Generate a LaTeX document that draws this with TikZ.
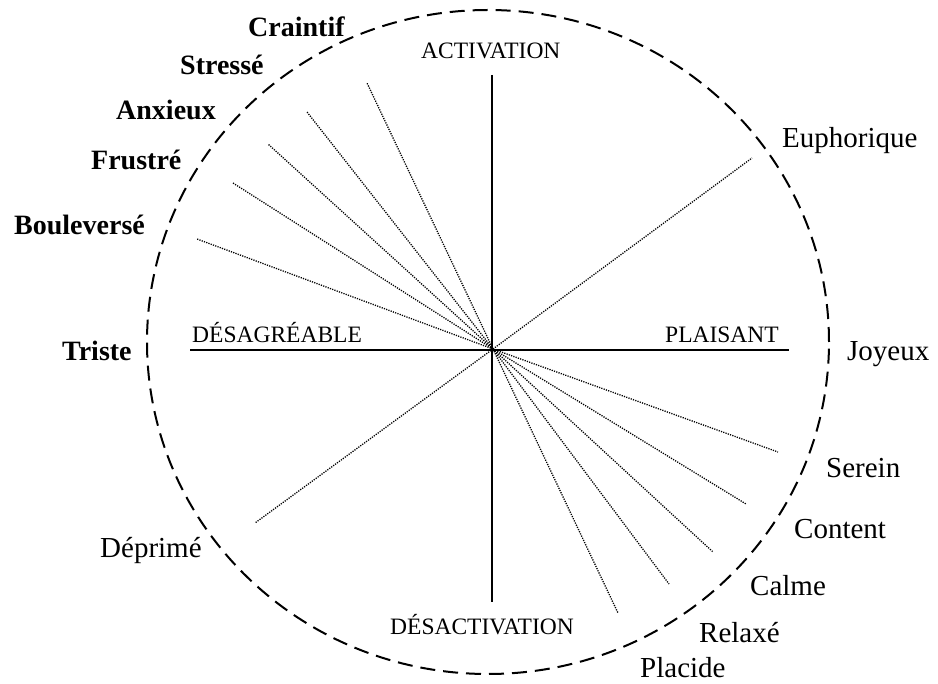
\documentclass[tikz,border=0pt]{standalone}
\usepackage{fontspec}
\setmainfont{Liberation Serif}
\begin{document}
\begin{tikzpicture}[x=1pt,y=-1pt,
  axis/.style={line width=1.5pt},
  ray/.style={line width=1.3pt,dash pattern=on 1.2pt off 1.2pt},
  rim/.style={line width=2pt,dash pattern=on 15pt off 8pt},
  emo/.style={anchor=base west,inner sep=0pt,font=\fontsize{29}{34}\selectfont},
  emob/.style={emo,font=\fontsize{28}{34}\selectfont\bfseries},
  pole/.style={anchor=base west,inner sep=0pt,font=\fontsize{23.5}{28}\selectfont}]
\useasboundingbox (0,0) rectangle (938,684);

% outer dashed ellipse
\draw[rim] (488,342) ellipse [x radius=341pt, y radius=332pt];

% axes
\coordinate (O) at (493,349);
\coordinate (xl) at (190,350);
\coordinate (xr) at (789,350);
\coordinate (yt) at (492,75);
\coordinate (yb) at (492,602);
\draw[axis] (xl) -- (xr);
\draw[axis] (yt) -- (yb);

% ray end points
\coordinate (rCraintif) at (367,83);
\coordinate (rStresse) at (307,112);
\coordinate (rAnxieux) at (268,144);
\coordinate (rFrustre) at (233,183);
\coordinate (rBoulev) at (197,239);
\coordinate (rEuph) at (752,158);
\coordinate (rDeprime) at (255,523);
\coordinate (rSerein) at (778,452);
\coordinate (rContent) at (746,504);
\coordinate (rCalme) at (713,552);
\coordinate (rRelaxe) at (669,584);
\coordinate (rPlacide) at (618,613);

\foreach \e in {rCraintif,rStresse,rAnxieux,rFrustre,rBoulev,rEuph,rDeprime,rSerein,rContent,rCalme,rRelaxe,rPlacide}
  \draw[ray] (O) -- (\e);

% pole labels
\node[pole] (act) at (421,59) {ACTIVATION};
\node[pole] (desact) at (390,634) {DÉSACTIVATION};
\node[pole] (desag) at (192,343) {DÉSAGRÉABLE};
\node[pole] (plais) at (665,343) {PLAISANT};

% emotion labels
\node[emob] (lCraintif) at (248,37) {Craintif};
\node[emob] (lStresse) at (180,75) {Stressé};
\node[emob] (lAnxieux) at (116,120) {Anxieux};
\node[emob] (lFrustre) at (91,170) {Frustré};
\node[emob] (lBoulev) at (14,235) {Bouleversé};
\node[emob] (lTriste) at (62,361) {Triste};
\node[emo] (lDeprime) at (100,558) {Déprimé};
\node[emo] (lEuph) at (782,148) {Euphorique};
\node[emo] (lJoyeux) at (847,361) {Joyeux};
\node[emo] (lSerein) at (826,478) {Serein};
\node[emo] (lContent) at (794,539) {Content};
\node[emo] (lCalme) at (750,595) {Calme};
\node[emo] (lRelaxe) at (699,642) {Relaxé};
\node[emo] (lPlacide) at (640,677) {Placide};
\end{tikzpicture}
\end{document}
